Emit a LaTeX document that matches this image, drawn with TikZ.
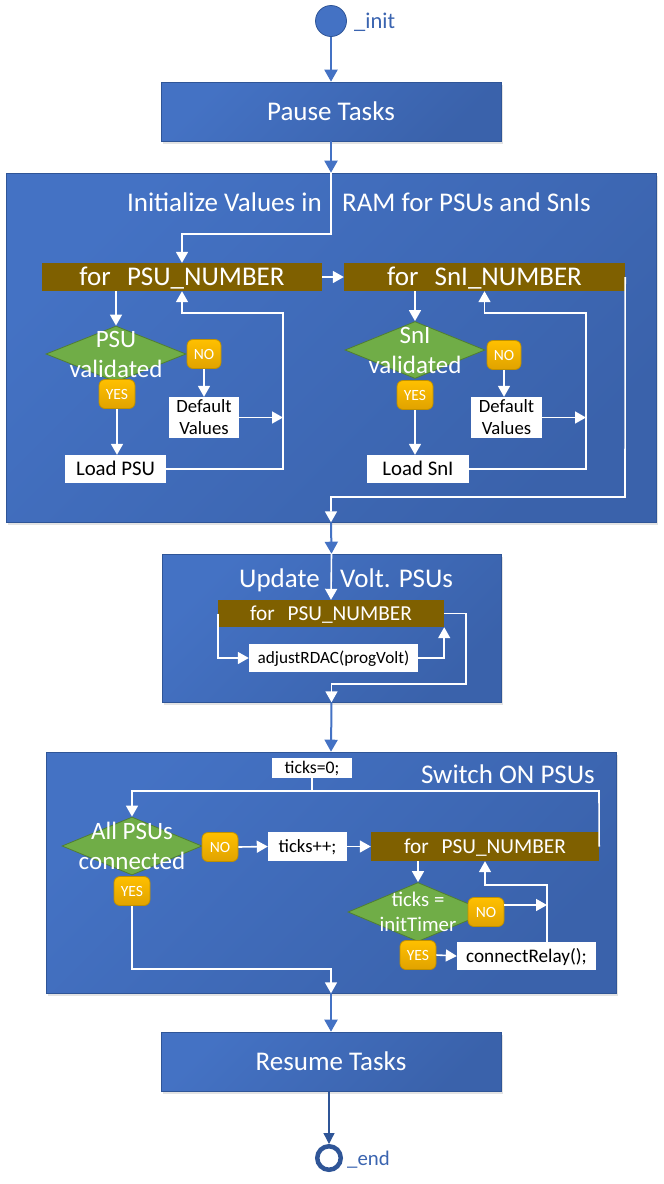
\documentclass[tikz,border=0pt]{standalone}
\usepackage{fontspec}
\setmainfont{Carlito}
\usetikzlibrary{arrows.meta,shapes.geometric,shadows,calc}
\definecolor{blueL}{HTML}{4472C4}
\definecolor{blueD}{HTML}{3A62AB}
\definecolor{bordc}{HTML}{2F5597}
\definecolor{lblc}{HTML}{3A64B0}
\definecolor{brownc}{HTML}{7F6000}
\definecolor{greenc}{HTML}{70AD47}
\definecolor{greend}{HTML}{507E32}
\definecolor{orgL}{HTML}{FFC000}
\definecolor{orgD}{HTML}{E0A200}
\definecolor{orgB}{HTML}{BF9000}
\newcommand\fs[2]{\fontsize{#1}{#2}\selectfont}
\begin{document}
\begin{tikzpicture}[x=1pt,y=-1pt,
  bluebox/.style={rectangle, draw=bordc, line width=0.6pt, top color=blueL, bottom color=blueD, shading angle=45,
    drop shadow={opacity=0.22, shadow xshift=1.5pt, shadow yshift=-3pt}, inner sep=0pt, text=white},
  bigtext/.style={font=\fs{27}{31}, text height=17.4pt, text depth=0pt},
  title/.style={text=white, font=\fs{27}{31}, inner sep=0pt},
  forbar/.style={rectangle, fill=brownc, inner sep=0pt, text=white, text depth=0pt},
  wbox/.style={rectangle, fill=white, inner sep=0pt, text=black, text depth=0pt},
  dia/.style={diamond, fill=greenc, draw=greend, line width=0.8pt, inner sep=0pt},
  dtext/.style={text=white, align=center, inner sep=0pt},
  badge/.style={rectangle, rounded corners=6pt, top color=orgL, bottom color=orgD, draw=orgB, line width=0.8pt,
    text=white, font=\fs{15.6}{18}, inner sep=0pt, minimum width=36pt, minimum height=29pt, text height=10pt, text depth=0pt},
  wline/.style={draw=white, line width=1.6pt},
  warrow/.style={wline, -{Triangle[length=11pt,width=12pt]}},
  barrow/.style={draw=blueL, line width=2pt, -{Triangle[length=12pt,width=13pt]}},
]
\useasboundingbox (0,0) rectangle (664,1184);
\fill[white] (0,0) rectangle (664,1184);

% ---------- start ----------
\node[circle, fill=blueL, draw=bordc, line width=0.8pt, minimum size=31pt, inner sep=0pt] (start) at (331,21) {};
\node[anchor=base west, text=lblc, font=\fs{22.5}{26}, inner sep=0pt] (startlbl) at (354,28) {\_init};

\node[bluebox, bigtext, minimum width=340pt, minimum height=59pt] (pause) at (331,111.5) {Pause Tasks};
\draw[barrow] (start) -- (pause);

% ---------- Initialize ----------
\node[bluebox, minimum width=650pt, minimum height=349pt] (init) at (331,347.5) {};
\draw[barrow] (pause) -- (init);
\node[title, anchor=base east] (initT1) at (322,211) {Initialize Values in};
\node[title, anchor=base west] (initT2) at (342,211) {RAM for PSUs and SnIs};

\node[forbar, bigtext, minimum width=280pt, minimum height=28pt] (for1) at (182,277) {for\hspace{0.6em}PSU\_NUMBER};
\node[forbar, bigtext, minimum width=281pt, minimum height=28pt] (for2) at (484.5,277) {for\hspace{0.6em}SnI\_NUMBER};

% left loop
\node[dia, minimum width=140pt, minimum height=56pt] (d1) at (116,354) {};
\node[dtext, font=\fs{25}{30}] (d1t) at (116,354) {PSU\\validated};
\node[badge] (y1) at (117,394) {YES};
\node[badge, minimum width=34pt] (n1) at (204,354) {NO};
\node[wbox, align=center, font=\fs{18.7}{22}] (def1) at (204,417.5) [minimum width=70pt, minimum height=41pt] {Default\\Values};
\node[wbox, font=\fs{20.8}{24}, text height=13.4pt, minimum width=101pt, minimum height=28pt] (load1) at (115.5,469) {Load PSU};
\coordinate (L1) at (283,313);

% right loop
\node[dia, minimum width=140pt, minimum height=57pt] (d2) at (415,350) {};
\node[dtext, font=\fs{25}{30}] (d2t) at (415,350.5) {SnI\\validated};
\node[badge] (y2) at (415,395) {YES};
\node[badge, minimum width=34pt] (n2) at (504,355) {NO};
\node[wbox, align=center, font=\fs{18.7}{22}] (def2) at (506.5,417.5) [minimum width=71pt, minimum height=41pt] {Default\\Values};
\node[wbox, font=\fs{20.8}{24}, text height=13.4pt, minimum width=102pt, minimum height=28pt] (load2) at (418,469) {Load SnI};
\coordinate (L2) at (586,313);
\coordinate (E1) at (625,497);

\draw[warrow] (init.north) -- ++(0,61) -| (for1.north);
\draw[warrow] (for1.east) -- (for2.west);
\draw[warrow] (for1.south -| d1.north) -- (d1.north);
\draw[warrow] (y1.south) -- (y1.south |- load1.north);
\draw[warrow] (n1.south) -- (n1.south |- def1.north);
\draw[warrow] (def1.east) -- (def1.east -| L1);
\draw[warrow] (load1.east) -| (L1) -| (for1.south);

\draw[warrow] (for2.south -| d2.north) -- (d2.north);
\draw[warrow] (y2.south) -- (y2.south |- load2.north);
\draw[warrow] (n2.south) -- (n2.south |- def2.north);
\draw[warrow] (def2.east) -- (def2.east -| L2);
\draw[warrow] (load2.east) -| (L2) -| (for2.south);
\draw[warrow] (for2.east) -- (E1) -| (init.south);

% ---------- Update ----------
\node[bluebox, minimum width=339pt, minimum height=148pt] (upd) at (331.5,628) {};
\draw[barrow] (init.south) -- (upd.north);
\node[title, anchor=base east] (updT1) at (320,587) {Update};
\node[title, anchor=base west] (updT2) at (340,587) {Volt. PSUs};
\node[forbar, font=\fs{21.3}{25}, text height=13.7pt, minimum width=226pt, minimum height=27pt] (for3) at (331,613.5) {for\hspace{0.6em}PSU\_NUMBER};
\node[wbox, font=\fs{17.2}{20}, text height=11.3pt, minimum width=169pt, minimum height=28pt] (rdac) at (333.5,658) {adjustRDAC(progVolt)};
\coordinate (E2) at (466,684);
\draw[warrow] (upd.north) -- (for3.north);
\draw[warrow] (for3.west) |- (rdac.west);
\draw[warrow] (rdac.east) -| (for3.south east);
\draw[warrow] (for3.east) -| (E2) -| (upd.south);

% ---------- Switch ON ----------
\node[bluebox, minimum width=570pt, minimum height=241pt] (sw) at (331,872.5) {};
\draw[barrow] (upd.south) -- (sw.north);
\node[title, anchor=base east] (swT) at (595,783) {Switch ON PSUs};
\node[wbox, font=\fs{17.7}{20}, text height=11.4pt, minimum width=80pt, minimum height=20pt] (ticks0) at (312,768) {ticks=0;};
\node[forbar, font=\fs{21.3}{25}, text height=13.7pt, minimum width=228pt, minimum height=29pt] (for4) at (485,846.5) {for\hspace{0.6em}PSU\_NUMBER};
\node[dia, minimum width=140pt, minimum height=58pt] (d3) at (132,846) {};
\node[dtext, font=\fs{25}{30}] (d3t) at (132,846) {All PSUs\\connected};
\node[badge] (n3) at (220,847) {NO};
\node[badge] (y3) at (132,891) {YES};
\node[wbox, font=\fs{18.7}{22}, text height=12.4pt, minimum width=79pt, minimum height=29pt] (tpp) at (307.5,846.5) {ticks++;};
\node[dia, minimum width=140pt, minimum height=59pt] (d4) at (418,912) {};
\node[dtext, font=\fs{20.8}{25}] (d4t) at (418,912) {ticks =\\initTimer};
\node[badge] (n4) at (486,912) {NO};
\node[badge] (y4) at (418,955) {YES};
\node[wbox, font=\fs{19.2}{22}, text height=12.9pt, minimum width=139pt, minimum height=28pt] (cr) at (526.5,956) {connectRelay();};
\coordinate (T1) at (599,791);
\coordinate (L4) at (547,885);
\coordinate (B3) at (132,969);

\draw[warrow] (for4.east) -- (T1) -| (d3.north);
\draw[wline] (ticks0.south) -- (ticks0.south |- T1);
\draw[warrow] (n3.east) -- (tpp.west);
\draw[warrow] (tpp.east) -- (for4.west);
\draw[warrow] (for4.south -| d4.north) -- (d4.north);
\draw[warrow] ([yshift=7pt]n4.east) -- ([yshift=7pt]n4.east -| L4);
\draw[warrow] (y4.east) -- (cr.west);
\draw[warrow] (cr.north -| L4) -- (L4) -| (for4.south);
\draw[warrow] (y3.south) -- (B3) -| (sw.south);

% ---------- Resume / end ----------
\node[bluebox, bigtext, minimum width=340pt, minimum height=59pt] (res) at (331,1061.5) {Resume Tasks};
\draw[barrow] (sw.south) -- (res.north);
\node[circle, draw=bordc, line width=4.5pt, fill=white, minimum size=23.5pt, inner sep=0pt] (endc) at (329,1158) {};
\node[anchor=base west, text=lblc, font=\fs{20.8}{24}, inner sep=0pt] (endlbl) at (347,1165) {\_end};
\draw[draw=bordc, line width=1.3pt, -{Triangle[length=11pt,width=11pt]}] (res.south -| endc.north) -- (endc.north);
\end{tikzpicture}
\end{document}
